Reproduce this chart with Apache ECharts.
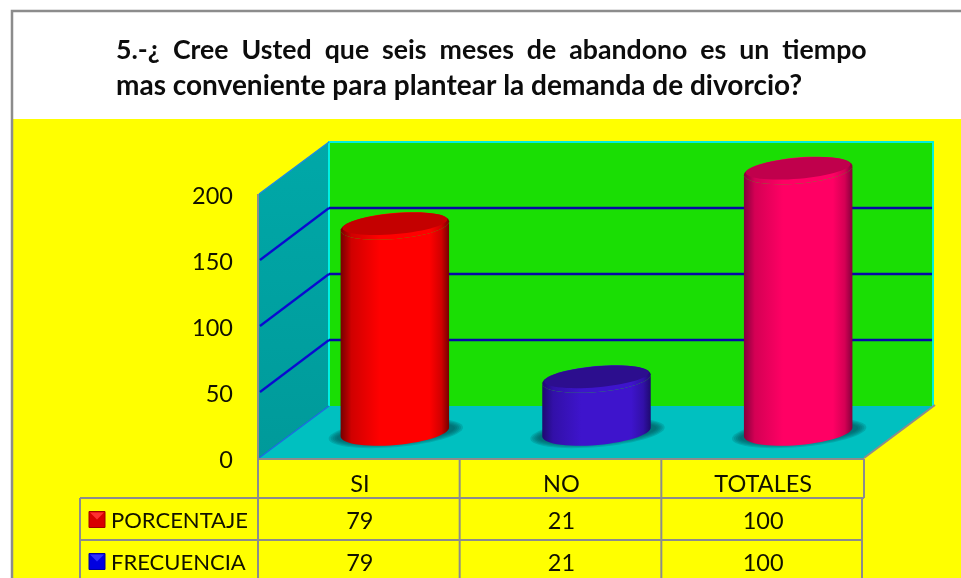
<!DOCTYPE html>
<html>
<head>
<meta charset="utf-8">
<title>Abandono y divorcio</title>
<script src="https://cdn.jsdelivr.net/npm/echarts@6/dist/echarts.min.js"></script>
<style>
html, body { margin: 0; padding: 0; background: #fff; }
#chart { width: 961px; height: 578px; }
</style>
</head>
<body>
<div id="chart"></div>
<script>
// datos
var categorias = ['SI', 'NO', 'TOTALES']
var porcentaje = [79, 21, 100]
var frecuencia = [79, 21, 100]
var alturas = [158, 42, 200]
var marcasY = [0, 50, 100, 150, 200]
var filas = ['PORCENTAJE', 'FRECUENCIA']
var titulo1 = '5.-¿  Cree  Usted  que  seis  meses  de  abandono  es  un  tiempo'
var titulo2 = 'mas conveniente para plantear la demanda de divorcio?'

// estilos
var fuente = 'Lato, "Noto Sans", sans-serif'
var gris = '#8c8c8c'
var coloresCilindro = [
    { borde: '#760000', medio: '#d00000', luz: '#ff0000', tapa: '#c40000' },
    { borde: '#1e0a70', medio: '#3210a8', luz: '#3e14cc', tapa: '#2c0e8e' },
    { borde: '#84003c', medio: '#d40054', luz: '#ff0064', tapa: '#c0004c' }
]
var coloresLeyenda = [
    { base: '#d80000', luz: '#ff3030', borde: '#a00000' },
    { base: '#0000e0', luz: '#3030ff', borde: '#0000a0' }
]

// fondo del grafico en profundidad
var fondoX = 70
var fondoY = -52
// filas de la tabla
var filaCab = 40
var filaAlto = 42

var chart = echarts.init(document.getElementById('chart'))

// elipse inclinada como lista de puntos
function elipse(cx, cy, a, b, desde, hasta, n) {
    var giro = -5 * Math.PI / 180
    var pts = []
    for (var i = 0; i <= n; i++) {
        var t = desde + (hasta - desde) * i / n
        var ex = a * Math.cos(t)
        var ey = b * Math.sin(t)
        pts.push([
            cx + ex * Math.cos(giro) - ey * Math.sin(giro),
            cy + ex * Math.sin(giro) + ey * Math.cos(giro)
        ])
    }
    return pts
}

function poligono(pts, style) {
    return { type: 'polygon', shape: { points: pts }, style: style }
}

function linea(pts, color, ancho) {
    return {
        type: 'polyline',
        shape: { points: pts },
        style: { fill: null, stroke: color, lineWidth: ancho }
    }
}

// paredes, piso y lineas de division
function pintarParedes(params, api) {
    var g = params.coordSys
    var x0 = g.x, x1 = g.x + g.width
    var yCero = api.coord([0, 0])[1]
    var yTope = api.coord([0, marcasY[marcasY.length - 1]])[1]
    var hijos = []

    hijos.push(poligono([[x0 + fondoX, yTope + fondoY], [x1 + fondoX, yTope + fondoY], [x1 + fondoX, yCero + fondoY], [x0 + fondoX, yCero + fondoY]], { fill: '#1ade04' }))
    hijos.push(poligono([[x0, yTope], [x0 + fondoX, yTope + fondoY], [x0 + fondoX, yCero + fondoY], [x0, yCero]], {
        fill: { type: 'linear', x: 0, y: 0, x2: 0, y2: 1, colorStops: [{ offset: 0, color: '#00a8a8' }, { offset: 1, color: '#009a9a' }] }
    }))
    hijos.push(poligono([[x0, yCero], [x1, yCero], [x1 + fondoX, yCero + fondoY], [x0 + fondoX, yCero + fondoY]], { fill: '#00c0c0' }))

    // bordes claros de la pared
    hijos.push(linea([[x0 + fondoX, yCero + fondoY], [x0 + fondoX, yTope + fondoY], [x1 + fondoX - 1, yTope + fondoY], [x1 + fondoX - 1, yCero + fondoY]], '#00f0e0', 2))
    hijos.push(linea([[x0, yTope], [x0 + fondoX, yTope + fondoY]], '#1a8ce0', 1.5))
    hijos.push(linea([[x0, yCero], [x0 + fondoX, yCero + fondoY]], '#1a6ce0', 1.5))

    marcasY.forEach(function (v) {
        if (v == 0 || v == marcasY[marcasY.length - 1]) return
        var y = api.coord([0, v])[1]
        hijos.push(linea([[x0 + 1, y], [x0 + fondoX, y + fondoY]], '#0a0ad0', 2.2))
        hijos.push(linea([[x0 + fondoX, y + fondoY], [x1 + fondoX - 2, y + fondoY]], '#0808a8', 2.6))
    })

    // borde derecho del piso
    hijos.push(linea([[x1, yCero], [x1 + fondoX + 1, yCero + fondoY - 1]], gris, 2))
    return { type: 'group', children: hijos }
}

// cilindros
function pintarCilindro(params, api) {
    var i = api.value(0)
    var v = api.value(1)
    var c = coloresCilindro[i]
    var base = api.coord([i, 0])
    var tope = api.coord([i, v])
    var ancho = api.size([1, 0])[0]
    var a = ancho * 0.27
    var b = 13
    var cx = base[0] + fondoX / 2
    var yBase = base[1] + fondoY / 2
    var yTope = tope[1] + fondoY / 2 + 2.5

    var lado = {
        type: 'linear', x: 0, y: 0, x2: 1, y2: 0,
        colorStops: [
            { offset: 0, color: c.borde },
            { offset: 0.1, color: c.medio },
            { offset: 0.36, color: c.luz },
            { offset: 0.82, color: c.luz },
            { offset: 0.93, color: c.medio },
            { offset: 1, color: c.borde }
        ]
    }
    var cuerpo = elipse(cx, yBase, a, b, Math.PI, 0, 30).concat(elipse(cx, yTope, a, b, 0, Math.PI, 30))

    // sombra suave en capas
    var hijos = []
    for (var k = 0; k < 5; k++) {
        hijos.push(poligono(elipse(cx + 1, yBase + 1, a + 13 - k * 2, b + 1 - k * 1.2, 0, Math.PI * 2, 60), { fill: 'rgba(0,80,84,0.2)' }))
    }
    hijos.push(poligono(cuerpo, { fill: lado }))
    hijos.push(poligono(elipse(cx, yTope, a, b, 0, Math.PI * 2, 60), { fill: lado }))
    hijos.push(poligono(elipse(cx, yTope - 2.2, a - 2, b - 2.6, 0, Math.PI * 2, 60), { fill: c.tapa }))
    return { type: 'group', children: hijos }
}

// celdas de la tabla, una columna por categoria
function pintarColumna(params, api) {
    var i = api.value(0)
    var p = api.coord([i, 0])
    var yFila1 = p[1] + filaCab + filaAlto / 2 + 2
    return {
        type: 'group',
        children: [
            { type: 'text', style: { text: String(api.value(1)), x: p[0], y: yFila1, fill: '#111100', font: '23.5px ' + fuente, align: 'center', verticalAlign: 'middle' } },
            { type: 'text', style: { text: String(api.value(2)), x: p[0], y: yFila1 + filaAlto, fill: '#111100', font: '23.5px ' + fuente, align: 'center', verticalAlign: 'middle' } }
        ]
    }
}

// lineas de la tabla y claves de la leyenda
function pintarTabla(params, api) {
    var g = params.coordSys
    var x0 = g.x, x1 = g.x + g.width
    var y0 = api.coord([0, 0])[1] + 1
    var y1 = y0 + filaCab - 1
    var y2 = y1 + filaAlto
    var yFin = 578
    var xLey = x0 - 179
    var banda = g.width / categorias.length
    var hijos = []

    hijos.push(linea([[x0, y0], [x1, y0]], gris, 2))
    hijos.push(linea([[xLey, y1], [x1, y1]], gris, 2))
    hijos.push(linea([[xLey, y2], [x1 - 2, y2]], gris, 2))
    hijos.push(linea([[xLey, y1], [xLey, yFin]], gris, 2))
    hijos.push(linea([[x0 - 1, g.y], [x0 - 1, yFin]], gris, 2))
    for (var i = 1; i < categorias.length; i++) {
        hijos.push(linea([[x0 + banda * i - 1, y0], [x0 + banda * i - 1, yFin]], gris, 2))
    }
    hijos.push(linea([[x1, y0], [x1, y1]], gris, 2))
    hijos.push(linea([[x1 - 2, y1], [x1 - 2, yFin]], gris, 2))

    filas.forEach(function (nombre, f) {
        var yc = y1 + filaAlto * f + filaAlto / 2 + 0.5
        var c = coloresLeyenda[f]
        var kx = xLey + 9, ky = yc - 8, lado = 16
        hijos.push(poligono([[kx, ky], [kx + lado, ky], [kx + lado, ky + lado], [kx, ky + lado]], { fill: c.base, stroke: c.borde, lineWidth: 1 }))
        hijos.push(poligono([[kx + 1, ky + 1], [kx + lado - 1, ky + 1], [kx + lado / 2, ky + lado / 2]], { fill: c.luz }))
        hijos.push({
            type: 'text',
            style: { text: nombre, x: xLey + 31, y: yc + 1, fill: '#111100', font: '22px ' + fuente, align: 'left', verticalAlign: 'middle' }
        })
    })
    return { type: 'group', children: hijos }
}

var option = {
    backgroundColor: '#ffffff',
    animation: false,
    grid: { left: 259, right: 97, top: 194, bottom: 120, containLabel: false },
    xAxis: {
        type: 'category',
        data: categorias,
        axisLine: { show: false },
        axisTick: { show: false },
        axisLabel: { margin: 14, color: '#111100', fontFamily: 'Lato', fontSize: 23.5 }
    },
    yAxis: {
        type: 'value',
        min: 0,
        max: 200,
        interval: 50,
        axisLine: { show: false },
        axisTick: { show: false },
        splitLine: { show: false },
        axisLabel: {
            margin: 26,
            formatter: '{n|{value}}',
            rich: { n: { color: '#111100', fontFamily: 'Lato', fontSize: 23.5, padding: [4, 0, 0, 0] } }
        }
    },
    graphic: [
        { type: 'rect', z: -10, shape: { x: 13, y: 119, width: 948, height: 459 }, style: { fill: '#ffff00' } },
        { type: 'polyline', z: -9, shape: { points: [[12, 578], [12, 11], [961, 11]] }, style: { fill: null, stroke: gris, lineWidth: 2.5 } },
        { type: 'text', z: 10, style: { text: titulo1, x: 116, y: 50, fill: '#0c0c0c', font: 'bold 26.7px ' + fuente, align: 'left', verticalAlign: 'middle' } },
        { type: 'text', z: 10, style: { text: titulo2, x: 116, y: 86, fill: '#0c0c0c', font: 'bold 28px ' + fuente, align: 'left', verticalAlign: 'middle' } }
    ],
    series: [
        { name: 'paredes', type: 'custom', z: 1, silent: true, renderItem: pintarParedes, data: [[0]] },
        { name: 'tabla', type: 'custom', z: 2, silent: true, renderItem: pintarTabla, data: [[0]] },
        {
            name: 'cilindros', type: 'custom', z: 3, silent: true, renderItem: pintarCilindro,
            data: alturas.map(function (v, i) { return [i, v] })
        },
        {
            name: 'columnas', type: 'custom', z: 4, silent: true, renderItem: pintarColumna,
            data: categorias.map(function (c, i) { return [i, porcentaje[i], frecuencia[i]] })
        }
    ]
}
chart.setOption(option)
</script>
</body>
</html>
